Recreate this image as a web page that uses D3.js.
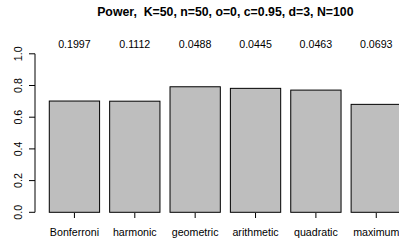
<!DOCTYPE html>
<html>
<head>
<meta charset="utf-8">
<script src="https://cdn.jsdelivr.net/npm/d3@7"></script>
<style>
  body { margin: 0; background: #fff; }
  text { font-family: "Liberation Sans", Arial, sans-serif; fill: #000; white-space: pre; }
</style>
</head>
<body>
<svg id="chart" width="399" height="244"></svg>
<script>
var categories = ["Bonferroni", "harmonic", "geometric", "arithmetic", "quadratic", "maximum"];
var power = [0.702, 0.701, 0.792, 0.782, 0.771, 0.681];
var sizeLabels = ["0.1997", "0.1112", "0.0488", "0.0445", "0.0463", "0.0693"];
var yTicks = [0, 0.2, 0.4, 0.6, 0.8, 1.0];
var title = "Power,  K=50, n=50, o=0, c=0.95, d=3, N=100";

var fontSize = "10.67px";
var svg = d3.select("#chart");

// R barplot style: bars at [0.2+1.2i, 1.2+1.2i], usr extended 4%
var x = d3.scaleLinear().domain([-0.08, 7.48]).range([35.2, 415.5]);
var y = d3.scaleLinear().domain([0, 1]).range([212.3, 53.8]);

var bars = categories.map(function(c, i) {
    return {name: c, value: power[i], size: sizeLabels[i], left: 0.2 + 1.2 * i, right: 1.2 + 1.2 * i};
});
var mid = function(d) { return x((d.left + d.right) / 2); };

svg.append("text")
    .attr("x", (x(-0.08) + x(7.48)) / 2)
    .attr("y", 15.5)
    .attr("text-anchor", "middle")
    .attr("font-size", "12.3px")
    .attr("font-weight", "bold")
    .text(title);

svg.selectAll(".bar").data(bars).enter().append("rect")
    .attr("class", "bar")
    .attr("x", function(d) { return x(d.left); })
    .attr("width", function(d) { return x(d.right) - x(d.left); })
    .attr("y", function(d) { return y(d.value); })
    .attr("height", function(d) { return y(0) - y(d.value); })
    .attr("fill", "#bebebe")
    .attr("stroke", "#000")
    .attr("stroke-width", 1);

svg.selectAll(".size").data(bars).enter().append("text")
    .attr("class", "size")
    .attr("x", mid)
    .attr("y", 47.5)
    .attr("text-anchor", "middle")
    .attr("font-size", fontSize)
    .text(function(d) { return d.size; });

// y axis
var yAxis = svg.append("g").attr("transform", "translate(35,0)");
yAxis.append("line")
    .attr("x1", 0).attr("x2", 0)
    .attr("y1", y(0)).attr("y2", y(1))
    .attr("stroke", "#000");
yAxis.selectAll(".tick").data(yTicks).enter().append("line")
    .attr("x1", -6).attr("x2", 0)
    .attr("y1", function(d) { return y(d); })
    .attr("y2", function(d) { return y(d); })
    .attr("stroke", "#000");
yAxis.selectAll(".lbl").data(yTicks).enter().append("text")
    .attr("transform", function(d) { return "translate(-13," + y(d) + ") rotate(-90)"; })
    .attr("text-anchor", "middle")
    .attr("font-size", fontSize)
    .text(function(d) { return d.toFixed(1); });

// x ticks and labels
svg.selectAll(".xtick").data(bars).enter().append("line")
    .attr("x1", mid).attr("x2", mid)
    .attr("y1", 213).attr("y2", 218)
    .attr("stroke", "#000");
svg.selectAll(".xlbl").data(bars).enter().append("text")
    .attr("x", mid)
    .attr("y", 236)
    .attr("text-anchor", "middle")
    .attr("font-size", fontSize)
    .text(function(d) { return d.name; });
</script>
</body>
</html>
